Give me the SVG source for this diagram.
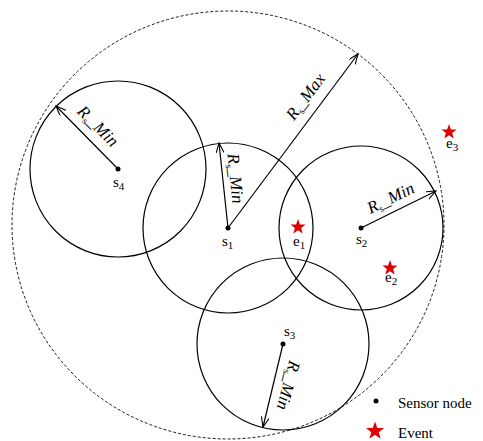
<svg xmlns="http://www.w3.org/2000/svg" width="483" height="441" viewBox="0 0 483 441">
<style>
.c{fill:none;stroke:#000;stroke-width:1.2}
.d{fill:none;stroke:#000;stroke-width:0.9;stroke-dasharray:3,2}
.a{stroke:#000;stroke-width:1.2;fill:none;marker-end:url(#arr)}
.t{font-family:"Liberation Serif",serif;font-size:15px;fill:#000}
.r{font-family:"Liberation Serif",serif;font-size:17px;font-style:italic;fill:#000}
.st{fill:#e00000}
</style>
<defs>
<marker id="arr" markerWidth="12" markerHeight="10" refX="10" refY="4" orient="auto" markerUnits="userSpaceOnUse">
<path d="M0,0 L10,4 L0,8" fill="none" stroke="#000" stroke-width="1.1"/>
</marker>
<polygon id="star" points="0,-8 1.9,-2.6 7.6,-2.5 3.1,1 4.7,6.5 0,3.2 -4.7,6.5 -3.1,1 -7.6,-2.5 -1.9,-2.6"/>
</defs>
<g id="range-max"><ellipse class="d" cx="228" cy="225" rx="216" ry="214"/></g>
<g id="s4"><circle class="c" cx="118" cy="169" r="88"/><circle cx="118" cy="169" r="2.5"/><text class="t" x="113" y="187">s<tspan font-size="11" dy="3">4</tspan></text></g>
<g id="s1"><circle class="c" cx="228" cy="228" r="85"/><circle cx="228" cy="228" r="2.5"/><text class="t" x="222" y="246">s<tspan font-size="11" dy="3">1</tspan></text></g>
<g id="s2"><circle class="c" cx="361" cy="228" r="82"/><circle cx="361" cy="228" r="2.5"/><text class="t" x="356" y="244">s<tspan font-size="11" dy="3">2</tspan></text></g>
<g id="s3"><circle class="c" cx="283" cy="344" r="86"/><circle cx="283" cy="344" r="2.5"/><text class="t" x="284" y="336">s<tspan font-size="11" dy="3">3</tspan></text></g>
<g id="connectors">
<line class="a" x1="118" y1="169" x2="56" y2="106"/>
<line class="a" x1="228" y1="228" x2="358" y2="54"/>
<line class="a" x1="228" y1="228" x2="219" y2="143"/>
<line class="a" x1="361" y1="228" x2="436" y2="191"/>
<line class="a" x1="283" y1="344" x2="263" y2="427"/>
</g>
<g id="labels">
<text class="r" text-anchor="middle" transform="translate(94,130) rotate(45)">R<tspan font-size="10" font-style="normal" dy="3">s</tspan><tspan dy="-3">_Min</tspan></text>
<text class="r" text-anchor="middle" transform="translate(310,100) rotate(-53)">R<tspan font-size="10" font-style="normal" dy="3">s</tspan><tspan dy="-3">_Max</tspan></text>
<text class="r" text-anchor="middle" transform="translate(230,179) rotate(84)">R<tspan font-size="10" font-style="normal" dy="3">s</tspan><tspan dy="-3">_Min</tspan></text>
<text class="r" text-anchor="middle" transform="translate(393,203) rotate(-26)">R<tspan font-size="10" font-style="normal" dy="3">s</tspan><tspan dy="-3">_Min</tspan></text>
<text class="r" text-anchor="middle" transform="translate(283,384) rotate(105)">R<tspan font-size="10" font-style="normal" dy="3">s</tspan><tspan dy="-3">_Min</tspan></text>
</g>
<g id="e1"><use href="#star" class="st" x="298" y="227"/><text class="t" x="293" y="246">e<tspan font-size="11" dy="3">1</tspan></text></g>
<g id="e2"><use href="#star" class="st" x="390" y="268"/><text class="t" x="385" y="282">e<tspan font-size="11" dy="3">2</tspan></text></g>
<g id="e3"><use href="#star" class="st" x="449" y="132"/><text class="t" x="446" y="148">e<tspan font-size="11" dy="3">3</tspan></text></g>
<g id="legend">
<circle cx="376" cy="401" r="2.5"/>
<text class="t" x="398" y="408" font-size="17">Sensor node</text>
<use href="#star" class="st" transform="translate(375,431) scale(1.2)"/>
<text class="t" x="398" y="438" font-size="17">Event</text>
</g>
</svg>
